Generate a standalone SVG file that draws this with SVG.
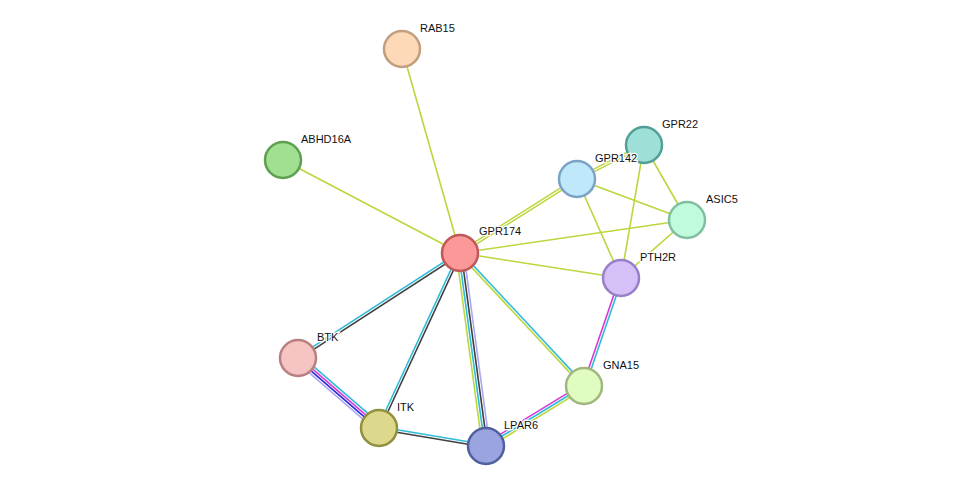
<svg xmlns="http://www.w3.org/2000/svg" width="975" height="492" viewBox="0 0 975 492">
<style>
line{stroke-width:1.6;fill:none}
.y{stroke:#bcd63f}.c{stroke:#2fbcd8}.k{stroke:#404040}.m{stroke:#d838d8}.b{stroke:#2a2ad8}.l{stroke:#a8a8f4}
circle{stroke-width:2.5}
text{font-family:"Liberation Sans",Arial,sans-serif;font-size:11px;fill:#111;paint-order:stroke;stroke:#fff;stroke-width:2.5px}
</style>
<rect width="975" height="492" fill="#fff"/>
<g id="edges">
<line class="y" x1="460" y1="253" x2="402" y2="49"/>
<line class="y" x1="460" y1="253" x2="283" y2="160"/>
<line class="y" x1="460.67" y1="254.06" x2="577.67" y2="180.06"/>
<line class="y" x1="459.33" y1="251.94" x2="576.33" y2="177.94"/>
<line class="y" x1="577.57" y1="180.12" x2="644.57" y2="146.12"/>
<line class="y" x1="576.43" y1="177.88" x2="643.43" y2="143.88"/>
<line class="y" x1="460" y1="253" x2="687" y2="220"/>
<line class="y" x1="460" y1="253" x2="621" y2="278"/>
<line class="y" x1="577" y1="179" x2="687" y2="220"/>
<line class="y" x1="577" y1="179" x2="621" y2="278"/>
<line class="y" x1="644" y1="145" x2="687" y2="220"/>
<line class="y" x1="644" y1="145" x2="621" y2="278"/>
<line class="y" x1="687" y1="220" x2="621" y2="278"/>
<line class="c" x1="459.32" y1="251.95" x2="297.32" y2="356.95"/>
<line class="k" x1="460.68" y1="254.05" x2="298.68" y2="359.05"/>
<line class="c" x1="458.87" y1="252.48" x2="377.87" y2="427.48"/>
<line class="k" x1="461.13" y1="253.52" x2="380.13" y2="428.52"/>
<line class="y" x1="456.3" y1="253.5" x2="482.3" y2="446.5"/>
<line class="c" x1="458.76" y1="253.17" x2="484.76" y2="446.17"/>
<line class="k" x1="461.24" y1="252.83" x2="487.24" y2="445.83"/>
<line class="l" x1="463.7" y1="252.5" x2="489.7" y2="445.5"/>
<line class="y" x1="459.09" y1="253.85" x2="583.09" y2="386.85"/>
<line class="c" x1="460.91" y1="252.15" x2="584.91" y2="385.15"/>
<line class="m" x1="619.82" y1="277.59" x2="582.82" y2="385.59"/>
<line class="c" x1="622.18" y1="278.41" x2="585.18" y2="386.41"/>
<line class="c" x1="300.45" y1="355.16" x2="381.45" y2="425.16"/>
<line class="m" x1="298.82" y1="357.05" x2="379.82" y2="427.05"/>
<line class="b" x1="297.18" y1="358.95" x2="378.18" y2="428.95"/>
<line class="l" x1="295.55" y1="360.84" x2="376.55" y2="430.84"/>
<line class="c" x1="379.21" y1="426.77" x2="486.21" y2="444.77"/>
<line class="k" x1="378.79" y1="429.23" x2="485.79" y2="447.23"/>
<line class="m" x1="582.7" y1="383.87" x2="484.7" y2="443.87"/>
<line class="c" x1="584" y1="386" x2="486" y2="446"/>
<line class="y" x1="585.3" y1="388.13" x2="487.3" y2="448.13"/>
</g>
<g id="RAB15"><circle cx="402" cy="49" r="18" fill="#fdd9b8" stroke="#c09e7e"/><text x="420" y="32">RAB15</text></g>
<g id="ABHD16A"><circle cx="283" cy="160" r="18" fill="#a0e090" stroke="#5fa050"/><text x="301" y="143">ABHD16A</text></g>
<g id="GPR22"><circle cx="644" cy="145" r="18" fill="#9ee0d8" stroke="#50a098"/><text x="662" y="128">GPR22</text></g>
<g id="GPR142"><circle cx="577" cy="179" r="18" fill="#c0e8fb" stroke="#7ba4c4"/><text x="595" y="162">GPR142</text></g>
<g id="ASIC5"><circle cx="687" cy="220" r="18" fill="#c0fcdc" stroke="#80c0a0"/><text x="706" y="203">ASIC5</text></g>
<g id="GPR174"><circle cx="460" cy="253" r="18" fill="#fb9999" stroke="#c05858"/><text x="479" y="235">GPR174</text></g>
<g id="PTH2R"><circle cx="621" cy="278" r="18" fill="#d5c0f8" stroke="#9880c8"/><text x="640" y="261">PTH2R</text></g>
<g id="BTK"><circle cx="298" cy="358" r="18" fill="#f7c4c4" stroke="#b88080"/><text x="317" y="341">BTK</text></g>
<g id="GNA15"><circle cx="584" cy="386" r="18" fill="#e0fcc0" stroke="#a0b880"/><text x="603" y="369">GNA15</text></g>
<g id="ITK"><circle cx="379" cy="428" r="18" fill="#dcd88c" stroke="#909040"/><text x="397" y="411">ITK</text></g>
<g id="LPAR6"><circle cx="486" cy="446" r="18" fill="#9aa4e0" stroke="#5060a0"/><text x="504" y="429">LPAR6</text></g>
</svg>
